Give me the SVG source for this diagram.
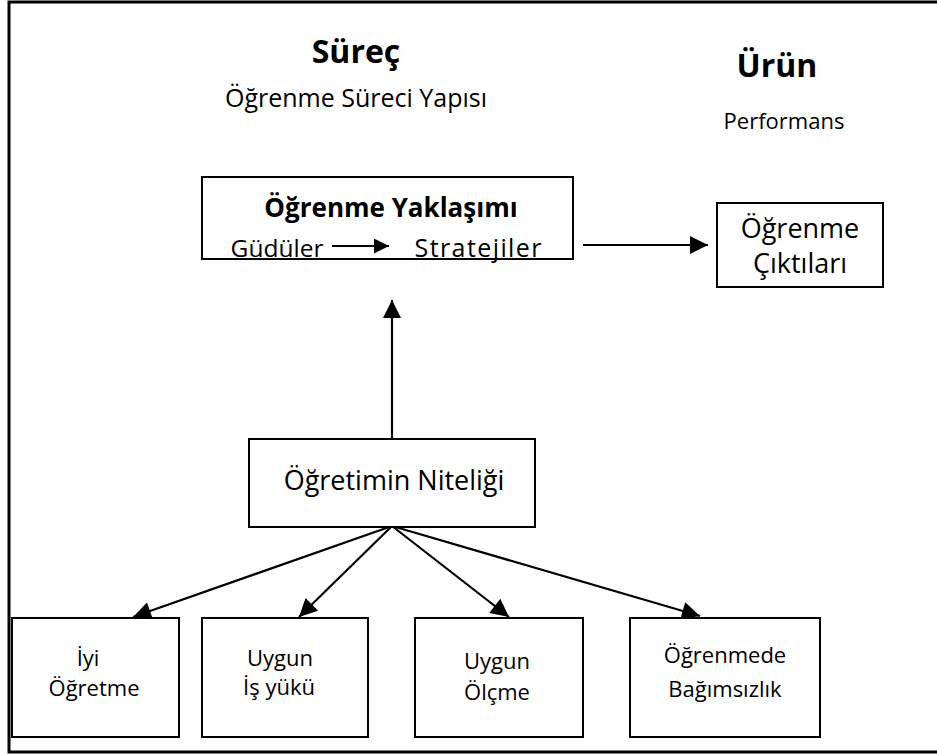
<svg xmlns="http://www.w3.org/2000/svg" width="937" height="754" viewBox="0 0 937 754">
  <defs>
    <marker id="head" viewBox="0 0 10 10" refX="10" refY="5" markerWidth="22" markerHeight="15" markerUnits="userSpaceOnUse" orient="auto">
      <path d="M0,0 L10,5 L0,10 Z" fill="#000"/>
    </marker>
    <marker id="headL" viewBox="0 0 10 10" refX="10" refY="5" markerWidth="22" markerHeight="18" markerUnits="userSpaceOnUse" orient="auto">
      <path d="M0,0 L10,5 L0,10 Z" fill="#000"/>
    </marker>
  </defs>
  <style>
    text { font-family: "Open Sans", "DejaVu Sans", sans-serif; fill: #000; text-anchor: middle; }
    .box { fill: #fff; stroke: #000; stroke-width: 2; }
    .edge { fill: none; stroke: #000; stroke-width: 2.2; }
    .title { font-weight: bold; font-size: 32px; }
    .sub { font-size: 25px; }
    .node { font-size: 27px; }
    .small { font-size: 22px; }
  </style>
  <rect width="937" height="754" fill="#fff"/>
  <!-- outer frame, open on the right -->
  <path d="M940,2 L9,2 L9,752 L940,752" fill="none" stroke="#000" stroke-width="3"/>

  <!-- column headings -->
  <g id="heading-process">
    <text class="title" x="356" y="63">Süreç</text>
    <text class="sub" x="356" y="107" font-size="26">Öğrenme Süreci Yapısı</text>
  </g>
  <g id="heading-product">
    <text class="title" x="777" y="77">Ürün</text>
    <text x="784" y="129" font-size="22">Performans</text>
  </g>

  <g id="connectors">
    <line class="edge" x1="583" y1="245" x2="708" y2="245" marker-end="url(#headL)"/>
    <line class="edge" x1="392" y1="439" x2="392" y2="300" marker-end="url(#headL)"/>
    <line class="edge" x1="392" y1="526" x2="133" y2="617" marker-end="url(#headL)"/>
    <line class="edge" x1="392" y1="526" x2="299" y2="617" marker-end="url(#headL)"/>
    <line class="edge" x1="392" y1="526" x2="509" y2="617" marker-end="url(#headL)"/>
    <line class="edge" x1="392" y1="526" x2="700" y2="616" marker-end="url(#headL)"/>
  </g>

  <g id="learning-approach">
    <rect class="box" x="202" y="177" width="371" height="82"/>
    <text x="391" y="217" font-size="26" font-weight="bold">Öğrenme Yaklaşımı</text>
    <text x="277" y="257" font-size="24.5">Güdüler</text>
    <line class="edge" x1="332" y1="246" x2="389" y2="246" marker-end="url(#head)"/>
    <text class="sub" x="478" y="257" textLength="127">Stratejiler</text>
  </g>

  <g id="learning-outcomes">
    <rect class="box" x="717" y="203" width="166" height="84"/>
    <text class="node" x="800" y="238">Öğrenme</text>
    <text class="node" x="800" y="273">Çıktıları</text>
  </g>

  <g id="teaching-quality">
    <rect class="box" x="249" y="439" width="286" height="88"/>
    <text class="node" x="394" y="490" font-size="28.5">Öğretimin Niteliği</text>
  </g>

  <g id="good-teaching">
    <rect class="box" x="12" y="618" width="167" height="119"/>
    <text class="small" x="88" y="666">İyi</text>
    <text class="small" x="94" y="696">Öğretme</text>
  </g>

  <g id="appropriate-workload">
    <rect class="box" x="202" y="618" width="166" height="119"/>
    <text class="small" x="280" y="666">Uygun</text>
    <text class="small" x="279" y="695">İş yükü</text>
  </g>

  <g id="appropriate-assessment">
    <rect class="box" x="415" y="618" width="168" height="119"/>
    <text class="small" x="497" y="669">Uygun</text>
    <text class="small" x="497" y="700">Ölçme</text>
  </g>

  <g id="independence">
    <rect class="box" x="630" y="618" width="190" height="119"/>
    <text class="small" x="725" y="663">Öğrenmede</text>
    <text class="small" x="725" y="697">Bağımsızlık</text>
  </g>
</svg>
